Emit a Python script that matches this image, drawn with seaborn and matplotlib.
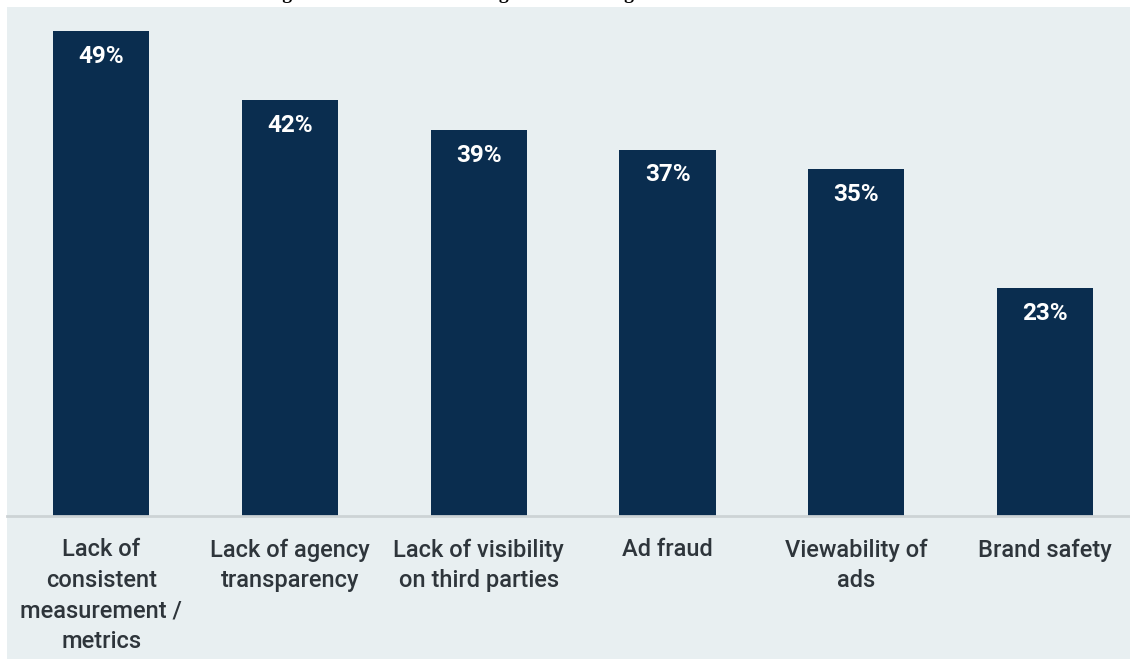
import matplotlib
matplotlib.use("Agg")
import matplotlib.pyplot as plt
import seaborn as sns
import pandas as pd

categories = [
    "Lack of\nconsistent\nmeasurement /\nmetrics",
    "Lack of agency\ntransparency",
    "Lack of visibility\non third parties",
    "Ad fraud",
    "Viewability of\nads",
    "Brand safety",
]
values = [49, 42, 39, 37, 35, 23]
value_labels = ["49%", "42%", "39%", "37%", "35%", "23%"]
title = "Figure 4: Concerns about digital advertising"

sns.set_theme(style="white")
plt.rcParams["font.family"] = ["Roboto", "DejaVu Sans"]

W, H = 1130, 659
fig = plt.figure(figsize=(W / 100, H / 100), dpi=100)
fig.patch.set_facecolor("white")
panel_bg = "#e8eff1"

bg = fig.add_axes([7 / W, 0, 1 - 7 / W, 1 - 7 / H])
bg.set_facecolor(panel_bg)
bg.set_xticks([])
bg.set_yticks([])
for s in bg.spines.values():
    s.set_visible(False)
bg.set_zorder(0)

ax = fig.add_axes([7 / W, (H - 516) / H, 1 - 7 / W, (516 - 7) / H])
ax.set_zorder(1)
ax.patch.set_alpha(0)

df = pd.DataFrame({"cat": categories, "val": values})
sns.barplot(data=df, x="cat", y="val", color="#0a2d4f", saturation=1, width=0.51,
            edgecolor="none", linewidth=0, ax=ax)

ax.set_xlim(-0.5, 5.45)
ax.set_ylim(0, 51.4)
ax.set_xlabel("")
ax.set_ylabel("")
ax.set_yticks([])
for s in ["top", "left", "right"]:
    ax.spines[s].set_visible(False)
ax.spines["bottom"].set_color("#cdd3d5")
ax.spines["bottom"].set_linewidth(2)
ax.set_xticks(range(len(categories)))
ax.set_xticklabels(categories, fontsize=17, color="#2e353b", fontweight="medium",
                   linespacing=1.42)
ax.tick_params(axis="x", length=0, pad=16)

for i, (v, t) in enumerate(zip(values, value_labels)):
    ax.annotate(t, xy=(i, v), xytext=(0, -10), textcoords="offset points",
                ha="center", va="top", color="white", fontsize=17.5, fontweight="bold")

fig.text(265 / W, 1 + 0.5 / H, title, ha="left", va="baseline", fontsize=14,
         fontweight="bold", family=["Liberation Serif"], color="black")

fig.savefig("out.png", dpi=100)
